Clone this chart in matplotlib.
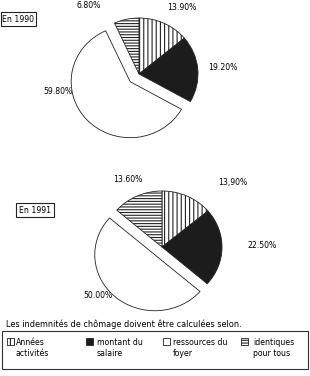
import matplotlib
matplotlib.use("Agg")
import matplotlib.pyplot as plt
from matplotlib.patches import Rectangle

plt.rcParams['font.family'] = ['DejaVu Sans']
plt.rcParams['hatch.linewidth'] = 0.8

# ---- data ----
categories = ["Années\nactivités", "montant du\nsalaire", "ressources du\nfoyer", "identiques\npour tous"]
values_1990 = [13.9, 19.2, 59.8, 6.8]
values_1991 = [13.9, 22.5, 50.0, 13.6]
labels_1990 = ["13.90%", "19.20%", "59.80%", "6.80%"]
labels_1991 = ["13,90%", "22.50%", "50.00%", "13.60%"]
years = ["En 1990", "En 1991"]
caption = "Les indemnités de chômage doivent être calculées selon."

W, H = 310, 376
fig = plt.figure(figsize=(W / 100, H / 100), dpi=100)
fig.patch.set_facecolor("white")

main = fig.add_axes([0, 0, 1, 1])
main.set_xlim(0, W)
main.set_ylim(H, 0)
main.axis("off")

colors = ["white", "#1c1c1c", "white", "white"]
hatches = ["||||", None, None, "------"]

FS = 5.6


def pie_axes(cx, cy, rx, ry, half=80):
    ax = fig.add_axes([(cx - half) / W, (H - cy - half) / H, 2 * half / W, 2 * half / H])
    ax.patch.set_alpha(0)
    return ax, half / rx, half / ry


def draw_pie(cx, cy, rx, ry, vals, expl_px):
    ax, lx, ly = pie_axes(cx, cy, rx, ry)
    wedges, _ = ax.pie(vals, startangle=90, counterclock=False, radius=1,
                       colors=colors, explode=[0, 0, expl_px / rx, 0],
                       wedgeprops=dict(edgecolor="#222222", linewidth=0.6),
                       frame=True)
    for w, h in zip(wedges, hatches):
        if h:
            w.set_hatch(h)
    ax.set_aspect("auto")
    ax.set_xlim(-lx, lx)
    ax.set_ylim(-ly, ly)
    ax.axis("off")


draw_pie(139, 74, 59, 56, values_1990, 12)
draw_pie(162, 247, 60, 56, values_1991, 11)

pos_1990 = [(182, 7), (223, 67), (58, 91), (89, 6)]
pos_1991 = [(233, 183), (262, 245), (98, 296), (128, 179)]
for lab, (x, y) in zip(labels_1990, pos_1990):
    main.text(x, y, lab, fontsize=FS, ha="center", va="center")
for lab, (x, y) in zip(labels_1991, pos_1991):
    main.text(x, y, lab, fontsize=FS, ha="center", va="center")

# year boxes
for txt, (x0, y0, x1, y1) in zip(years, [(1, 12, 36, 26), (16, 203, 54, 217)]):
    main.add_patch(Rectangle((x0, y0), x1 - x0, y1 - y0, fill=False, lw=0.8, ec="#222222"))
    main.text((x0 + x1) / 2, (y0 + y1) / 2 + 0.5, txt, fontsize=FS, ha="center", va="center")

main.text(6, 324, caption, fontsize=5.9, ha="left", va="center")

# legend box
main.add_patch(Rectangle((2, 331), 306, 38, fill=False, lw=0.8, ec="#333333"))
icon_x = [7, 86, 163, 241]
text_x = [16, 97, 173, 253]
for i, cat in enumerate(categories):
    main.add_patch(Rectangle((icon_x[i], 338), 7, 7, facecolor=colors[i],
                             hatch=hatches[i],
                             edgecolor="#222222", lw=0.6))
    l1, l2 = cat.split("\n")
    main.text(text_x[i], 342.5, l1, fontsize=FS, ha="left", va="center")
    main.text(text_x[i], 353, l2, fontsize=FS, ha="left", va="center")

fig.savefig("out.png", dpi=100)
